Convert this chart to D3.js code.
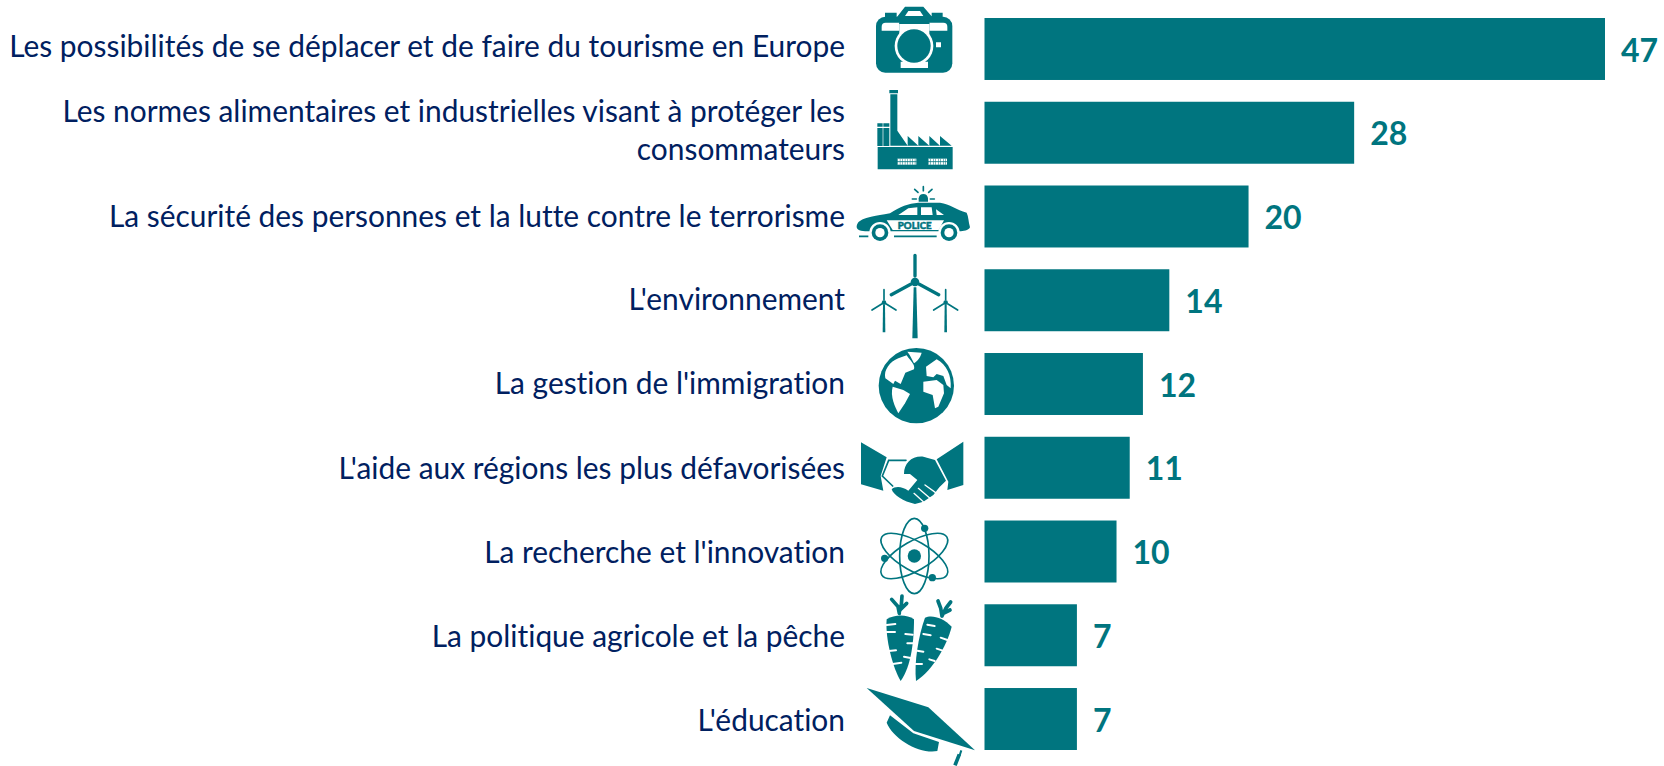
<!DOCTYPE html>
<html lang="fr">
<head>
<meta charset="utf-8">
<script src="https://cdn.jsdelivr.net/npm/d3@7"></script>
<style>
    html, body { margin: 0; padding: 0; background: #fff; }
    svg { display: block; }
    text { font-family: Lato, "Open Sans", sans-serif; font-variant-ligatures: none; }
</style>
</head>
<body>
<div id="chart"></div>
<script>
const categories = [
    ["Les possibilités de se déplacer et de faire du tourisme en Europe"],
    ["Les normes alimentaires et industrielles visant à protéger les", "consommateurs"],
    ["La sécurité des personnes et la lutte contre le terrorisme"],
    ["L'environnement"],
    ["La gestion de l'immigration"],
    ["L'aide aux régions les plus défavorisées"],
    ["La recherche et l'innovation"],
    ["La politique agricole et la pêche"],
    ["L'éducation"]
];
const values = [47, 28, 20, 14, 12, 11, 10, 7, 7];

const teal = "#00757f";
const navy = "#002060";
const width = 1664, height = 766;

const svg = d3.select("#chart").append("svg")
    .attr("width", width)
    .attr("height", height);

const xScale = d3.scaleLinear().domain([0, 47]).range([984.5, 1605]);
const yScale = d3.scaleBand()
    .domain(d3.range(categories.length))
    .range([18, 750])
    .paddingInner(0.26);

// Bars
svg.append("g").selectAll("rect")
    .data(values)
    .join("rect")
    .attr("x", xScale(0))
    .attr("y", (d, i) => yScale(i))
    .attr("width", d => xScale(d) - xScale(0))
    .attr("height", yScale.bandwidth())
    .attr("fill", teal);

// Value labels
svg.append("g").selectAll("text")
    .data(values)
    .join("text")
    .attr("x", d => xScale(d) + 16)
    .attr("y", (d, i) => yScale(i) + yScale.bandwidth() / 2 + 1)
    .attr("dy", "0.36em")
    .attr("fill", teal)
    .style("font-size", "32px")
    .style("font-weight", 700)
    .text(d => d);

// Category labels, the text boxes do not sit exactly on the bar centres
const labelNudge = [-2, -2, 0, -1, 0, 1, 1, 1, 2];
const labels = svg.append("g").selectAll("text")
    .data(categories)
    .join("text")
    .attr("text-anchor", "end")
    .attr("fill", navy)
    .style("font-size", "29.9px");

labels.selectAll("tspan")
    .data((d, i) => d.map((line, j) => ({ line, j, n: d.length, i })))
    .join("tspan")
    .attr("x", 845)
    .attr("y", d => yScale(d.i) + yScale.bandwidth() / 2 + labelNudge[d.i] + (d.j - (d.n - 1) / 2) * 38)
    .attr("dy", "0.35em")
    .text(d => d.line);

// Icons are hand traced, drawn in 3x units
const icons = svg.append("g")
    .attr("fill", teal)
    .attr("stroke-linecap", "round");

function iconGroup(cropY) {
    return icons.append("g").attr("transform", `translate(840, ${cropY}) scale(${1 / 3})`);
}
function fill(g, d, color) { return g.append("path").attr("d", d).attr("fill", color || teal); }
function line(g, d, w, color) {
    return g.append("path").attr("d", d).attr("fill", "none")
        .attr("stroke", color || teal).attr("stroke-width", w);
}

// camera
const cam = iconGroup(0);
cam.append("rect").attr("x", 108).attr("y", 50).attr("width", 229).attr("height", 168).attr("rx", 28);
fill(cam, "M135,52V38H170V52ZM275,52V38H308V52ZM168,55L195,20H250L280,55Z");
fill(cam, "M195,48L205,33H240L250,48Z", "#fff");
fill(cam, "M125,92V80Q125,68 137,68H178V92ZM268,68H310Q322,68 322,80V92H268Z", "#fff");
fill(cam, "M178,72H268V110H178ZM182,185H264V204H182ZM288,127H303V142H288Z", "#fff");
fill(cam, "M178,68H268V72H178Z");
cam.append("circle").attr("cx", 222).attr("cy", 138).attr("r", 58).attr("fill", "#fff");
cam.append("circle").attr("cx", 222).attr("cy", 138).attr("r", 50);

// factory
const fac = iconGroup(0);
fill(fac, "M148,270H174V280H148ZM151,283H172V392L203,437V408L235,437V408L268,437V408L300,437V408L335,437H151Z");
fill(fac, "M112,370H128V380H112ZM130,370H148V380H130ZM112,384H128V438H112ZM130,384H148V438H130Z");
fill(fac, "M113,441H338V508H113Z");
fac.append("g").selectAll("rect")
    .data([172, 264])
    .join("rect")
    .attr("x", d => d).attr("y", 476).attr("width", 57).attr("height", 18).attr("fill", "#fff");
line(fac, "M172,485H229M264,485H321", 2.5);
line(fac, "M172,485H229M264,485H321", 18).attr("stroke-dasharray", "1.5 6").attr("stroke-linecap", "butt");

// police car
const car = iconGroup(0);
fill(car, "M50,682C52,662 60,655 150,640C180,620 205,610 235,608H300C330,612 350,630 380,638C386,650 385,665 390,682C385,692 370,694 358,694H90C70,694 52,694 50,682Z");
fill(car, "M175,645L205,625L232,622V645ZM243,622H275L278,645H243ZM288,628L312,645H290Z", "#fff");
fill(car, "M140,661H312L296,690H158Z", "#fff");
car.append("text").attr("x", 224).attr("y", 687).attr("text-anchor", "middle")
    .attr("fill", teal).attr("stroke", teal).attr("stroke-width", 1.5)
    .style("font-size", "29px").style("font-weight", 900).text("POLICE");
[120, 327].forEach(cx => {
    car.append("circle").attr("cx", cx).attr("cy", 698).attr("r", 32).attr("fill", "#fff");
    car.append("circle").attr("cx", cx).attr("cy", 698).attr("r", 25);
    car.append("circle").attr("cx", cx).attr("cy", 698).attr("r", 14).attr("fill", "#fff");
});
line(car, "M57,709H85M162,709H290", 5).attr("stroke-linecap", "butt");
fill(car, "M236,605V595Q238,582 250,582Q262,582 264,595V605Z");
line(car, "M250,560V572M224,568L234,577M276,568L266,577M217,597H229M271,597H283", 5);

// wind turbines
const wind = iconGroup(250);
fill(wind, "M221,112H229L233,265H217Z");
wind.append("circle").attr("cx", 225).attr("cy", 96).attr("r", 13);
line(wind, "M225,16V78M212,103L154,134M238,103L296,134", 10);
[132, 317].forEach(cx => {
    fill(wind, `M${cx - 3},165H${cx + 3}L${cx + 4},247H${cx - 4}Z`);
    wind.append("circle").attr("cx", cx).attr("cy", 158).attr("r", 7);
    line(wind, `M${cx},119V150M${cx - 7},162L${cx - 36},180M${cx + 7},162L${cx + 36},180`, 5);
});

// globe
const globe = iconGroup(250);
globe.append("circle").attr("cx", 229).attr("cy", 407).attr("r", 113);
fill(globe, "M175,325L200,316C212,335 226,342 222,358L196,368L182,402L165,392L160,402L136,385C130,360 150,335 175,325Z", "#fff");
fill(globe, "M202,305L245,308C240,325 232,333 222,340C215,325 210,315 202,305Z", "#fff");
fill(globe, "M158,410L190,420L210,432L195,460L175,490C165,470 150,440 158,410Z", "#fff");
fill(globe, "M258,350L290,328C320,345 335,375 332,415L320,405L310,378L290,372L280,382L260,378Z", "#fff");
fill(globe, "M250,395L290,390L310,405L312,430L295,470L285,475L278,435L250,425Z", "#fff");

// handshake
const hands = iconGroup(250);
fill(hands, "M63,577L140,622L122,678L130,722L63,703Z");
fill(hands, "M370,575L290,628L325,695L322,720L370,705Z");
line(hands, "M198,631H146L127,678L158,708", 5);
fill(hands, "M192,672C192,640 215,617 250,620L285,630L318,692L298,712L280,735L250,755L225,762C190,755 160,735 155,718C165,708 185,708 205,722L232,690L210,672Z");
line(hands, "M255,705L290,730M235,715L270,745M222,730L250,755", 4, "#fff");

// atom
const atom = iconGroup(506);
[0, 60, -60].forEach(a => {
    atom.append("ellipse")
        .attr("cx", 223).attr("cy", 150).attr("rx", 44).attr("ry", 113)
        .attr("transform", `rotate(${a} 223 150)`)
        .attr("fill", "none").attr("stroke", teal).attr("stroke-width", 5);
});
atom.append("g").selectAll("circle")
    .data([[223, 150, 20], [254, 67, 11], [134, 157, 11], [277, 215, 11]])
    .join("circle")
    .attr("cx", d => d[0]).attr("cy", d => d[1]).attr("r", d => d[2]);

// carrots
const carrots = iconGroup(506);
fill(carrots, "M140,340C165,325 200,325 222,340C222,400 215,480 182,525C160,490 135,400 140,340Z");
fill(carrots, "M255,335C275,325 310,335 335,362C320,420 280,490 228,525C222,470 235,390 255,335Z");
line(carrots, "M140,357L166,354M140,378L165,378M196,384L218,386M202,412L222,412M146,435L168,433M192,452L212,456M158,474L184,470", 6, "#fff");
line(carrots, "M262,356L284,360M250,384L272,388M302,395L322,402M290,428L308,434M232,434L250,437M268,460L284,465M226,474L246,474", 6, "#fff");
line(carrots, "M178,322L174,302L155,280M178,318L184,296L186,270M180,312L200,292", 11);
line(carrots, "M306,330L302,306L294,285M306,330L318,306L332,288M310,322L330,312", 11);

// graduation cap
const cap = iconGroup(506);
fill(cap, "M80,546L265,604L405,733L222,675Z");
fill(cap, "M150,628L220,682L297,708L292,735C240,745 160,700 140,650Z");
line(cap, "M364,733L359,748", 6).attr("stroke-linecap", "butt");
line(cap, "M358,745L345,778", 11).attr("stroke-linecap", "butt");
</script>
</body>
</html>
